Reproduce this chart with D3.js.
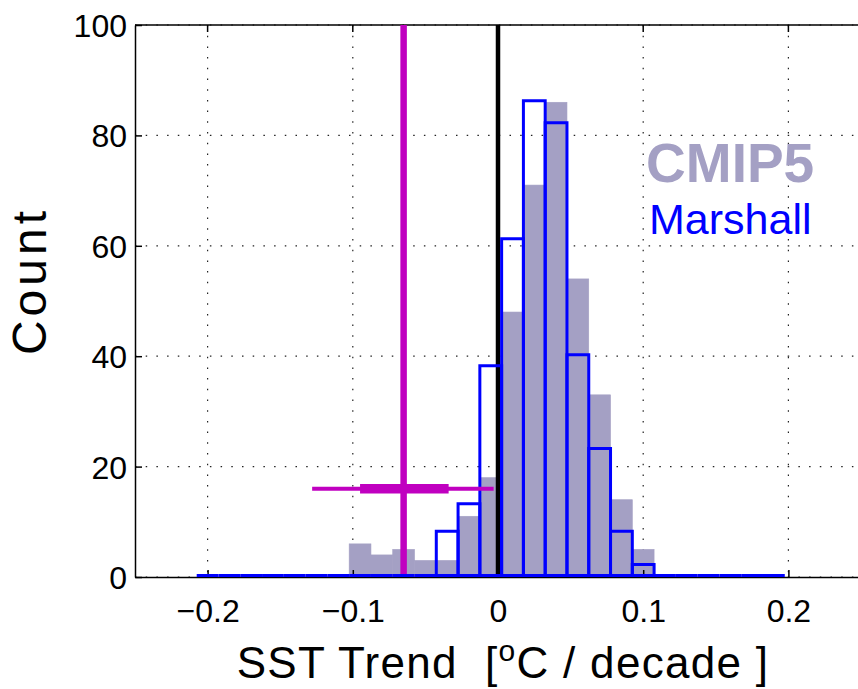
<!DOCTYPE html>
<html>
<head>
<meta charset="utf-8">
<script src="https://cdnjs.cloudflare.com/ajax/libs/d3/7.8.5/d3.min.js"></script>
<style>
  body { margin: 0; background: #fff; }
  text { font-family: "Liberation Sans", Arial, Helvetica, sans-serif; }
</style>
</head>
<body>
<div id="hist"></div>
<script>
// bin centres of the histogram, SST trend in degC / decade
let binCenters = [
  -0.200, -0.185, -0.170, -0.155, -0.140, -0.125, -0.110, -0.095, -0.080,
  -0.065, -0.050, -0.035, -0.020, -0.005,  0.010,  0.025,  0.040,  0.055,
   0.070,  0.085,  0.100,  0.115,  0.130,  0.145,  0.160,  0.175,  0.190
];
let binWidth = 0.015;

let cmip5Counts = [
  0, 0, 0, 0, 0, 0, 0, 6, 4,
  5, 3, 3, 11, 18, 48, 71, 86, 54,
  33, 14, 5, 0, 0, 0, 0, 0, 0
];

let marshallCounts = [
  0, 0, 0, 0, 0, 0, 0, 0, 0,
  0, 0, 8, 13, 38, 61, 86, 82, 40,
  23, 8, 2, 0, 0, 0, 0, 0, 0
];

// observed trend: central value, thick (likely) and thin (full) ranges
let obsTrend  = -0.065;
let obsLikely = [-0.095, -0.034];
let obsRange  = [-0.128, -0.003];
let obsLevel  = 16;

let xTicks = [-0.2, -0.1, 0, 0.1, 0.2];
let yTicks = [0, 20, 40, 60, 80, 100];

let margin = {
  top:    25,
  right:  -3,
  bottom: 112,
  left:   135
};

let exteriorWidth  = 858,
    exteriorHeight = 689;

let interiorWidth  = exteriorWidth - margin.left - margin.right,
    interiorHeight = exteriorHeight - margin.top - margin.bottom;

let cmipColor = "#a4a0c4",
    magenta   = "#c000c0";

let root =
  d3.select("#hist")
    .append("svg")
      .attr("width", exteriorWidth)
      .attr("height", exteriorHeight);

let svg = root.append("g")
    .attr("transform", translate(margin.left, margin.top));

let x = d3.scaleLinear()
    .domain([-0.25, 0.25])
    .range([0, interiorWidth]);

let y = d3.scaleLinear()
    .domain([0, 100])
    .range([interiorHeight, 0]);

let bins = binCenters.map(function(c, i) {
  return {x0: c - binWidth / 2, x1: c + binWidth / 2,
          cmip: cmip5Counts[i], marshall: marshallCounts[i]};
});

// dotted grid
svg.append("g")
  .selectAll("line")
  .data(xTicks)
  .enter().append("line")
    .attr("x1", function(d) { return x(d); })
    .attr("x2", function(d) { return x(d); })
    .attr("y1", 0)
    .attr("y2", interiorHeight)
    .attr("stroke", "#222")
    .attr("stroke-width", 1.2)
    .attr("stroke-dasharray", "1.5,9.2");

svg.append("g")
  .selectAll("line")
  .data(yTicks)
  .enter().append("line")
    .attr("x1", 0)
    .attr("x2", interiorWidth)
    .attr("y1", function(d) { return y(d); })
    .attr("y2", function(d) { return y(d); })
    .attr("stroke", "#222")
    .attr("stroke-width", 1.2)
    .attr("stroke-dasharray", "1.5,9.2");

// CMIP5 histogram, filled
svg.append("g")
  .selectAll("rect")
  .data(bins.filter(function(d) { return d.cmip > 0; }))
  .enter().append("rect")
    .attr("x", function(d) { return x(d.x0); })
    .attr("width", function(d) { return x(d.x1) - x(d.x0); })
    .attr("y", function(d) { return y(d.cmip); })
    .attr("height", function(d) { return y(0) - y(d.cmip); })
    .attr("fill", cmipColor)
    .attr("stroke", cmipColor)
    .attr("stroke-width", 0.6);

// axes box with inward ticks
let bottomAxis = d3.axisBottom(x).tickValues(xTicks).tickSizeInner(-7).tickSizeOuter(0)
    .tickFormat(function(d) { return d === 0 ? "0" : d3.format(".1f")(d).replace("-", "\u2212"); });
let leftAxis = d3.axisLeft(y).tickValues(yTicks).tickSizeInner(-7).tickSizeOuter(0);

let gx = svg.append("g")
    .attr("transform", translate(0, interiorHeight))
    .call(bottomAxis);
gx.selectAll("text")
    .attr("dy", 0)
    .attr("y", 45)
    .attr("font-size", 32)
    .attr("fill", "#000");

let gy = svg.append("g")
    .call(leftAxis);
gy.selectAll("text")
    .attr("x", -8)
    .attr("dy", "0.36em")
    .attr("font-size", 32)
    .attr("fill", "#000");

svg.selectAll(".domain, .tick line")
    .attr("stroke", "#000")
    .attr("stroke-width", 1.5);

svg.append("line")
    .attr("x1", 0).attr("x2", interiorWidth)
    .attr("y1", 0).attr("y2", 0)
    .attr("stroke", "#000")
    .attr("stroke-width", 1.5);

svg.append("g")
  .selectAll("line")
  .data(xTicks)
  .enter().append("line")
    .attr("x1", function(d) { return x(d); })
    .attr("x2", function(d) { return x(d); })
    .attr("y1", 0)
    .attr("y2", 7)
    .attr("stroke", "#000")
    .attr("stroke-width", 1.5);

// zero line
svg.append("line")
    .attr("x1", x(0)).attr("x2", x(0))
    .attr("y1", 0).attr("y2", interiorHeight)
    .attr("stroke", "#000")
    .attr("stroke-width", 4.5);

// observed trend
svg.append("line")
    .attr("x1", x(obsTrend)).attr("x2", x(obsTrend))
    .attr("y1", 0).attr("y2", interiorHeight)
    .attr("stroke", magenta)
    .attr("stroke-width", 6.5);

// Marshall histogram, outline only (empty bins collapse to a line on the floor)
svg.append("g")
  .selectAll("path")
  .data(bins)
  .enter().append("path")
    .attr("d", function(d) {
      let b = y(0) - 1.5, t = y(d.marshall) - 1.5;
      return "M" + x(d.x0) + "," + b + "V" + t + "H" + x(d.x1) + "V" + b + "Z";
    })
    .attr("fill", "none")
    .attr("stroke", "#0000ff")
    .attr("stroke-width", 3);

svg.append("line")
    .attr("x1", x(obsRange[0])).attr("x2", x(obsRange[1]))
    .attr("y1", y(obsLevel)).attr("y2", y(obsLevel))
    .attr("stroke", magenta)
    .attr("stroke-width", 4);

svg.append("line")
    .attr("x1", x(obsLikely[0])).attr("x2", x(obsLikely[1]))
    .attr("y1", y(obsLevel)).attr("y2", y(obsLevel))
    .attr("stroke", magenta)
    .attr("stroke-width", 9.5);

// legend text
svg.append("text")
    .attr("x", x(0.102))
    .attr("y", y(71.5))
    .attr("font-size", 55)
    .attr("font-weight", "bold")
    .attr("fill", cmipColor)
    .text("CMIP5");

svg.append("text")
    .attr("x", x(0.104))
    .attr("y", y(62.2))
    .attr("font-size", 43)
    .attr("fill", "#0000ff")
    .text("Marshall");

// axis titles
root.append("text")
    .attr("transform", translate(46, 281) + " rotate(-90)")
    .attr("text-anchor", "middle")
    .attr("font-size", 48)
    .attr("letter-spacing", 4)
    .text("Count");

let xl = root.append("text")
    .attr("x", 503)
    .attr("y", 678)
    .attr("text-anchor", "middle")
    .attr("font-size", 44)
    .attr("letter-spacing", 1.3)
    .attr("xml:space", "preserve");
xl.append("tspan").text("SST Trend  [");
xl.append("tspan").attr("dy", -17).attr("font-size", 30).text("o");
xl.append("tspan").attr("dy", 17).text("C / decade ]");

function translate(x, y=0) {
  return "translate({x}, {y})"
          .replace("{x}", x)
          .replace("{y}", y);
}
</script>
</body>
</html>
